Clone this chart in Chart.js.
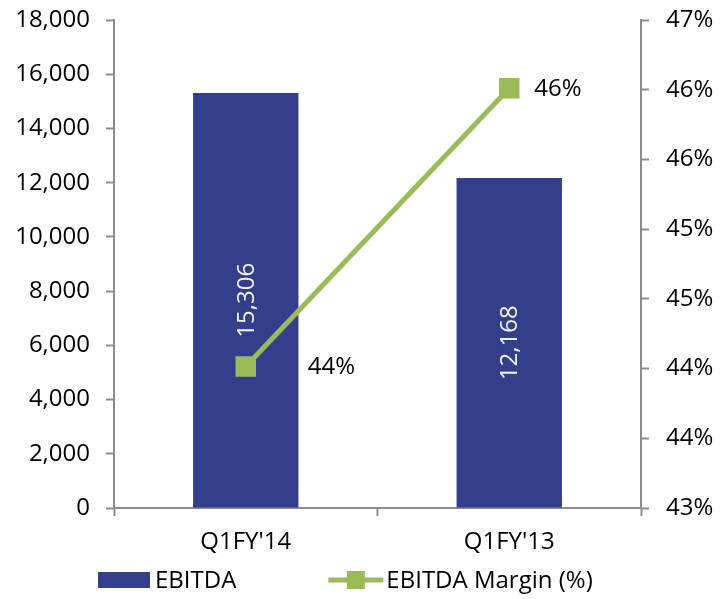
<!DOCTYPE html>
<html>
<head>
<meta charset="utf-8">
<script src="https://cdn.jsdelivr.net/npm/chart.js@4/dist/chart.umd.min.js"></script>
<style>
  html, body { margin: 0; padding: 0; background: #fff; }
  #wrap { width: 728px; height: 599px; }
</style>
</head>
<body>
<div id="wrap"><canvas id="ebitdaChart"></canvas></div>
<script>
// --- data ---
const quarters = ["Q1FY'14", "Q1FY'13"];
const ebitda = [15306, 12168];
const ebitdaLabels = ["15,306", "12,168"];
const ebitdaMargin = [44.16, 46.44];
const marginLabels = ["44%", "46%"];
const leftTickLabels = ["0", "2,000", "4,000", "6,000", "8,000", "10,000", "12,000", "14,000", "16,000", "18,000"];
const rightTickLabels = ["43%", "44%", "44%", "45%", "45%", "46%", "46%", "47%"];

const FONT = "'Open Sans', 'DejaVu Sans', sans-serif";
const FONT_SIZE = 24;
const BAR_COLOR = "#333F8A";
const LINE_COLOR = "#9BBB59";
const AXIS_COLOR = "#8C8C8C";
const marginLabelOffsets = [62, 25]; // label x-offset from each marker

/**
 * Value labels: rotated text inside bars, text right of line markers
 */
const valueLabels = {
  id: "valueLabels",
  afterDatasetsDraw(chart) {
    const ctx = chart.ctx;
    ctx.save();
    ctx.font = `${FONT_SIZE}px ${FONT}`;
    ctx.textBaseline = "middle";

    chart.getDatasetMeta(0).data.forEach((bar, i) => {
      ctx.save();
      ctx.translate(bar.x, (bar.y + bar.base) / 2);
      ctx.rotate(-Math.PI / 2);
      ctx.textAlign = "center";
      ctx.fillStyle = "#F2F2F7";
      ctx.fillText(ebitdaLabels[i], 0, 1);
      ctx.restore();
    });

    ctx.textAlign = "left";
    ctx.fillStyle = "#000";
    chart.getDatasetMeta(1).data.forEach((pt, i) => {
      ctx.fillText(marginLabels[i], pt.x + marginLabelOffsets[i], pt.y + 1);
    });
    ctx.restore();
  },
};

/**
 * Legend drawn like the Excel one: swatch for bars, line+marker for the line
 */
const excelLegend = {
  id: "excelLegend",
  afterDraw(chart) {
    const ctx = chart.ctx;
    const ds = chart.data.datasets;
    const cy = 580;
    ctx.save();
    ctx.font = `${FONT_SIZE}px ${FONT}`;
    ctx.textBaseline = "middle";
    ctx.textAlign = "left";

    let x = 98;
    ctx.fillStyle = ds[0].backgroundColor;
    ctx.fillRect(x, cy - 8, 52, 16);
    x += 57;
    ctx.fillStyle = "#000";
    ctx.fillText(ds[0].label, x, cy + 1);
    x += ctx.measureText(ds[0].label).width + 92;

    ctx.strokeStyle = ds[1].borderColor;
    ctx.lineWidth = 5;
    ctx.beginPath();
    ctx.moveTo(x, cy);
    ctx.lineTo(x + 55, cy);
    ctx.stroke();
    ctx.fillStyle = ds[1].pointBackgroundColor;
    ctx.fillRect(x + 27.5 - 9, cy - 9, 18, 18);
    x += 58;
    ctx.fillStyle = "#000";
    ctx.fillText(ds[1].label, x, cy + 1);
    ctx.restore();
  },
};

const ctx = document.getElementById("ebitdaChart").getContext("2d");

new Chart(ctx, {
  data: {
    labels: quarters,
    datasets: [
      {
        type: "bar",
        label: "EBITDA",
        data: ebitda,
        yAxisID: "y",
        backgroundColor: BAR_COLOR,
        barPercentage: 0.4,
        categoryPercentage: 1,
        order: 1,
      },
      {
        type: "line",
        label: "EBITDA Margin (%)",
        data: ebitdaMargin,
        yAxisID: "yMargin",
        borderColor: LINE_COLOR,
        borderWidth: 5,
        pointStyle: "rect",
        pointRadius: 14.5,
        pointBackgroundColor: LINE_COLOR,
        pointBorderWidth: 0,
        tension: 0,
        order: 0,
      },
    ],
  },
  options: {
    responsive: true,
    maintainAspectRatio: false,
    animation: false,
    layout: { padding: { top: 20, left: 0, right: 0, bottom: 39 } },
    plugins: {
      legend: { display: false },
      tooltip: { enabled: false },
    },
    scales: {
      x: {
        grid: {
          offset: true,
          drawOnChartArea: false,
          drawTicks: true,
          tickLength: 8,
          tickWidth: 2,
          tickColor: AXIS_COLOR,
        },
        border: { color: AXIS_COLOR, width: 2 },
        ticks: {
          color: "#000",
          font: { family: FONT, size: FONT_SIZE },
          padding: 12,
        },
        afterFit(s) {
          s.height = 52;
        },
      },
      y: {
        position: "left",
        min: 0,
        max: 18000,
        ticks: {
          stepSize: 2000,
          color: "#000",
          font: { family: FONT, size: FONT_SIZE },
          padding: 16,
          callback: (v, i) => leftTickLabels[i],
        },
        grid: {
          drawOnChartArea: false,
          tickLength: 8,
          tickWidth: 2,
          tickColor: AXIS_COLOR,
        },
        border: { color: AXIS_COLOR, width: 2 },
        afterFit(s) {
          s.width = 114;
          s.paddingTop = 0;
          s.paddingBottom = 0;
        },
      },
      yMargin: {
        position: "right",
        min: 43,
        max: 47,
        ticks: {
          count: 8,
          color: "#000",
          font: { family: FONT, size: FONT_SIZE },
          padding: 17,
          callback: (v, i) => rightTickLabels[i],
        },
        grid: {
          drawOnChartArea: false,
          tickLength: 8,
          tickWidth: 2,
          tickColor: AXIS_COLOR,
        },
        border: { color: AXIS_COLOR, width: 2 },
        afterFit(s) {
          s.width = 87;
          s.paddingTop = 0;
          s.paddingBottom = 0;
        },
      },
    },
  },
  plugins: [valueLabels, excelLegend],
});
</script>
</body>
</html>
